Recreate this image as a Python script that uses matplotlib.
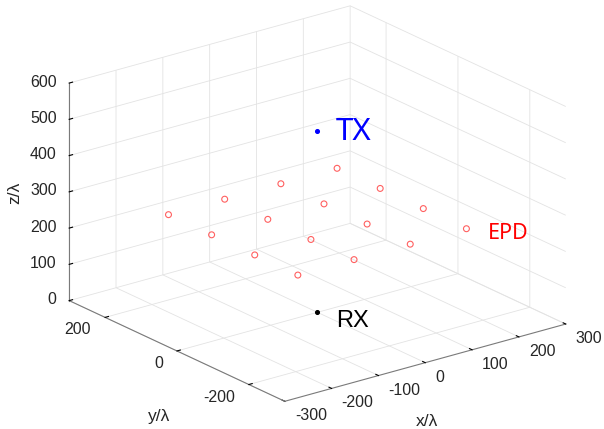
import matplotlib
matplotlib.use("Agg")
import matplotlib.pyplot as plt
import numpy as np
from matplotlib.transforms import offset_copy

plt.rcParams["font.family"] = ["Liberation Sans", "DejaVu Sans"]
plt.rcParams["axes.unicode_minus"] = False

# EPD grid (in wavelengths), TX / RX positions
EPD_X = [-180, -60, 60, 180]
EPD_Y = [-180, -60, 60, 180]
EPD_Z = 250
TX_POS = (0, 0, 500)
RX_POS = (0, 0, 0)

X_TICKS = [-300, -200, -100, 0, 100, 200, 300]
Y_TICKS = [-200, 0, 200]
Z_TICKS = [0, 100, 200, 300, 400, 500, 600]
X_LIM = (-300, 300)
Y_LIM = (-300, 300)
Z_LIM = (0, 600)

TICK_COLOR = "#262626"
TICK_SIZE = 11.5


def style_axis(axis):
    axis.set_pane_color((1, 1, 1, 0))
    axis.pane.set_edgecolor((1, 1, 1, 0))
    axis.line.set_color("#7a7a7a")
    axis.line.set_linewidth(0.8)
    axis._axinfo["grid"].update(color="#e3e3e3", linewidth=0.6, linestyle="-")
    axis._axinfo["tick"]["inward_factor"] = 0.0
    axis._axinfo["tick"]["outward_factor"] = 0.15
    axis._axinfo["tick"]["color"] = "#7a7a7a"
    axis.offsetText.set_visible(False)
    axis.label.set_visible(False)
    # labels are drawn by hand below
    for tick in axis.get_major_ticks():
        tick.label1.set_visible(False)
        tick.label2.set_visible(False)


def label_at(ax, fig, xyz, text, dx, dy, **kwargs):
    # 3d anchor with a pixel offset, like MATLAB's fixed label spacing
    trans = offset_copy(ax.transData, fig=fig, x=dx, y=dy, units="dots")
    ax.text(*xyz, text, transform=trans, **kwargs)


def main():
    fig = plt.figure(figsize=(6.04, 4.29), dpi=100)
    ax = fig.add_axes([0.016, 0.012, 1, 1], projection="3d", proj_type="ortho")
    ax.view_init(elev=21.0, azim=-127.5)
    ax.set_box_aspect((1, 1, 0.658), zoom=1.25)

    gx, gy = np.meshgrid(EPD_X, EPD_Y)
    ax.scatter(gx.ravel(), gy.ravel(), np.full(gx.size, EPD_Z), s=18,
               facecolors="none", edgecolors="#ff6060", linewidths=0.8, depthshade=False)
    ax.scatter(*[[v] for v in TX_POS], s=7, color="blue", depthshade=False)
    ax.scatter(*[[v] for v in RX_POS], s=7, color="black", depthshade=False)

    label_at(ax, fig, TX_POS, "TX", 18, -9, color="blue", fontsize=22.5,
             ha="left", va="baseline", family=["Noto Sans", "DejaVu Sans"])
    label_at(ax, fig, RX_POS, "RX", 19, -15, color="black", fontsize=17,
             ha="left", va="baseline")
    label_at(ax, fig, (EPD_X[-1], EPD_Y[0], EPD_Z), "EPD", 21, -10, color="red",
             fontsize=15.5, ha="left", va="baseline", family=["Noto Sans", "DejaVu Sans"])

    ax.set_xlim(*X_LIM)
    ax.set_ylim(*Y_LIM)
    ax.set_zlim(*Z_LIM)
    ax.set_xticks(X_TICKS)
    ax.set_yticks(Y_TICKS)
    ax.set_zticks(Z_TICKS)

    for axis in (ax.xaxis, ax.yaxis, ax.zaxis):
        style_axis(axis)

    # tick labels, MATLAB style alignment
    for t in X_TICKS:
        label_at(ax, fig, (t, Y_LIM[0], Z_LIM[0]), str(t), 10, -19, ha="left",
                 va="baseline", fontsize=TICK_SIZE, color=TICK_COLOR)
    for t in Y_TICKS:
        label_at(ax, fig, (X_LIM[0], t, Z_LIM[0]), str(t), -14, -17, ha="right",
                 va="baseline", fontsize=TICK_SIZE, color=TICK_COLOR)
    for t in Z_TICKS:
        label_at(ax, fig, (X_LIM[0], Y_LIM[1], t), str(t), -12.5, -3.5, ha="right",
                 va="baseline", fontsize=TICK_SIZE, color=TICK_COLOR)

    # axis labels placed like MATLAB does
    ax.text2D(0.707, 0.018, "x/λ", transform=fig.transFigure, fontsize=12.5,
              color=TICK_COLOR, ha="center", va="center")
    ax.text2D(0.263, 0.030, "y/λ", transform=fig.transFigure, fontsize=12.5,
              color=TICK_COLOR, ha="center", va="center")
    ax.text2D(0.025, 0.550, "z/λ", transform=fig.transFigure, fontsize=12.5,
              color=TICK_COLOR, ha="center", va="center", rotation=90)

    fig.savefig("out.png", dpi=100)
    plt.close(fig)


if __name__ == "__main__":
    main()
